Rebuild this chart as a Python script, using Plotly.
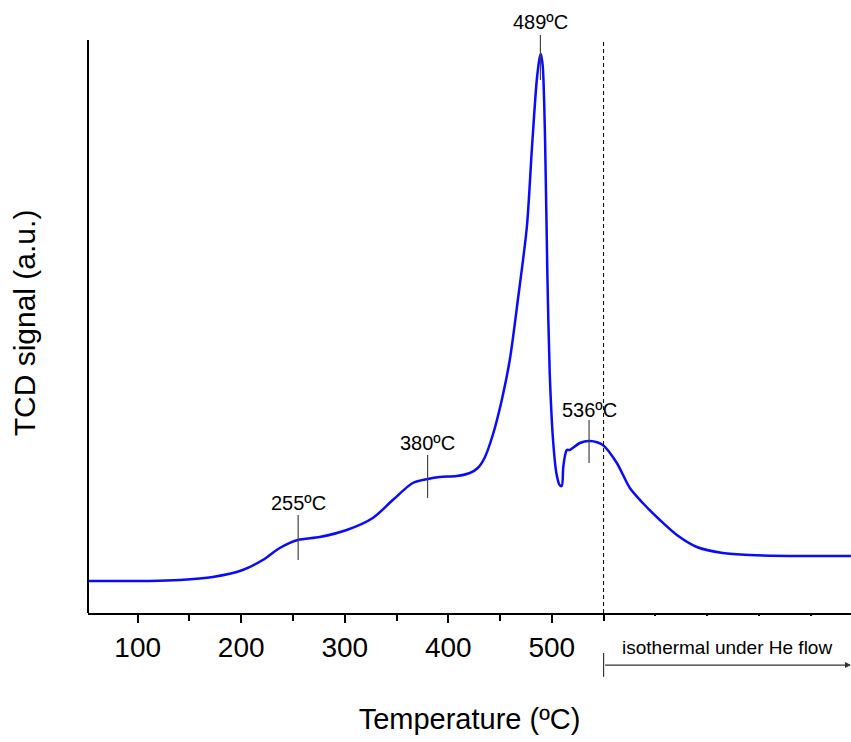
import plotly.graph_objects as go

# TPR-like profile: temperature (ºC) and TCD signal (a.u.)
temperature = [51.7, 111.6, 140.6, 172.5, 201.4, 220.8, 237.2, 254.6, 275.8, 301.9, 327.1,
               346.4, 365.7, 380.2, 391.8, 408.2, 420.8, 428.5, 435.0, 443.0, 451.7, 459.4,
               467.2, 475.9, 480.7, 485.5, 488.4, 489.5, 491.3, 493.5, 495.7, 498.0, 501.2,
               504.4, 507.5, 509.6, 511.0, 512.5, 514.5, 517.4, 527.1, 536.7, 549.3, 562.8,
               575.4, 587.9, 604.4, 620.8, 640.1, 665.2, 691.3, 740.0, 788.9]
signal = [32, 32, 33, 36, 43, 53, 65, 73, 76, 83, 95,
          113, 130, 134, 136, 137, 140, 145, 155, 178, 213, 253,
          313, 386, 463, 533, 556, 559, 546, 473, 340, 240, 173,
          140, 128, 127, 145, 156, 163, 163, 170, 172, 168, 150,
          125, 110, 93, 78, 66, 60, 58, 57, 57]

# peak markers
peak_temps = [255, 380, 489, 536]
peak_labels = ["255ºC", "380ºC", "489ºC", "536ºC"]
mark_low = [53, 115, 533, 150]
mark_high = [98, 158, 578, 193]
label_y = [110, 170, 591, 203]

major_ticks = [100, 200, 300, 400, 500]
minor_ticks = [150, 250, 350, 450, 550]
tiny_ticks = [600, 650, 700, 750]
isothermal_start = 550
x_range = [52, 789]
y_range = [0, 580]
y_top = 573

FONT = "Arial, Liberation Sans, sans-serif"

fig = go.Figure()
fig.add_trace(go.Scatter(x=temperature, y=signal, mode="lines",
                         line=dict(color="#0a0aff", width=2.5, shape="spline", smoothing=0.8),
                         hoverinfo="skip", showlegend=False))
fig.add_trace(go.Scatter(x=[], y=[], xaxis="x2", showlegend=False, hoverinfo="skip"))

for t, lo, hi, lab, ly in zip(peak_temps, mark_low, mark_high, peak_labels, label_y):
    fig.add_shape(type="line", xref="x", yref="y", x0=t, x1=t, y0=lo, y1=hi,
                  line=dict(color="#444444", width=1.2))
    fig.add_annotation(x=t, y=ly / y_range[1], xref="x", yref="paper", text=lab,
                       xanchor="center", yanchor="middle",
                       showarrow=False, font=dict(family=FONT, size=20, color="black"))

# y axis line
fig.add_shape(type="line", xref="paper", yref="y", x0=0, x1=0, y0=0, y1=y_top,
              line=dict(color="black", width=2))
# dashed isothermal boundary
fig.add_shape(type="line", xref="x", yref="y", x0=isothermal_start, x1=isothermal_start,
              y0=0, y1=y_top, line=dict(color="black", width=1, dash="4px,3px"))
# isothermal arrow
fig.add_shape(type="line", xref="x", yref="paper", x0=isothermal_start, x1=isothermal_start,
              y0=-0.069, y1=-0.110, line=dict(color="#333333", width=1.2))
fig.add_annotation(x=x_range[1], y=-0.0897, xref="x", yref="paper",
                   ax=isothermal_start, ay=0, axref="x", ayref="pixel",
                   text="", showarrow=True, arrowhead=2, arrowsize=1, arrowwidth=1.2,
                   arrowcolor="#333333")
fig.add_annotation(x=(isothermal_start + x_range[1]) / 2, y=-0.060, xref="x", yref="paper",
                   xanchor="center", yanchor="middle",
                   text="isothermal under He flow", showarrow=False,
                   font=dict(family=FONT, size=19, color="black"))

fig.update_layout(
    width=851, height=742,
    margin=dict(l=88, r=0, t=33, b=129),
    plot_bgcolor="white", paper_bgcolor="white",
    font=dict(family=FONT, color="black"),
    xaxis=dict(range=x_range, tickvals=major_ticks, ticks="outside", ticklen=8,
               tickwidth=2, tickcolor="black", showline=True, linecolor="black",
               linewidth=2, showgrid=False, zeroline=False,
               tickfont=dict(size=28, family=FONT),
               minor=dict(tickvals=minor_ticks, ticks="outside", ticklen=6,
                          tickwidth=2, tickcolor="black", showgrid=False),
               title=dict(text="Temperature (ºC)", font=dict(size=29, family=FONT),
                          standoff=47)),
    xaxis2=dict(range=x_range, overlaying="x", anchor="y", side="bottom",
                tickvals=tiny_ticks, ticks="outside", ticklen=2, tickwidth=1.5,
                tickcolor="black", showticklabels=False, showline=False,
                showgrid=False, zeroline=False),
    yaxis=dict(range=y_range, showticklabels=False, ticks="", showline=False,
               showgrid=False, zeroline=False,
               title=dict(text="TCD signal (a.u.)", font=dict(size=30, family=FONT),
                          standoff=42)),
)

fig.write_html("out.html")
